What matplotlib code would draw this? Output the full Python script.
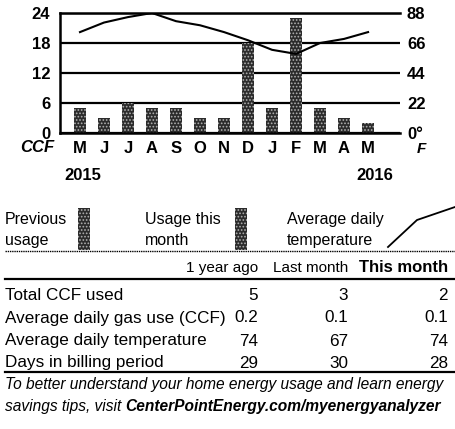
import matplotlib.pyplot as plt
from matplotlib.patches import Rectangle
from matplotlib.lines import Line2D

plt.rcParams['font.family'] = ['Liberation Sans', 'DejaVu Sans']

months = ['M', 'J', 'J', 'A', 'S', 'O', 'N', 'D', 'J', 'F', 'M', 'A', 'M']
usage = [5, 3, 6, 5, 5, 3, 3, 18, 5, 23, 5, 3, 2]
temps = [74, 81, 85, 88, 82, 79, 74, 68, 61, 58, 66, 69, 74]
ccf_ticks = [0, 6, 12, 18, 24]
temp_ticks = [0, 22, 44, 66, 88]

col_heads = ['1 year ago', 'Last month', 'This month']
row_names = ['Total CCF used', 'Average daily gas use (CCF)',
             'Average daily temperature', 'Days in billing period']
table_vals = [['5', '3', '2'],
              ['0.2', '0.1', '0.1'],
              ['74', '67', '74'],
              ['29', '30', '28']]

W, H = 455, 429
fig = plt.figure(figsize=(W / 100, H / 100), dpi=100)


def fx(x):
    return x / W


def fy(y):
    return 1 - y / H


bar_style = dict(facecolor='#2b2b2b', edgecolor='#b0b0b0', hatch='.....', linewidth=0)
plt.rcParams['hatch.linewidth'] = 0.8

# --- chart ---
ax = fig.add_axes([fx(60), fy(133), 340 / W, 120 / H])
ax.bar(range(len(usage)), usage, width=0.5, **bar_style)
ax.set_xlim(-0.833, 13.33)
ax.set_ylim(0, 24)
ax.set_yticks(ccf_ticks)
ax.set_yticklabels([str(t) for t in ccf_ticks], fontsize=12, fontweight='bold')
ax.set_xticks(range(len(months)))
ax.set_xticklabels(months, fontsize=12, fontweight='bold')
ax.tick_params(length=0, axis='y', pad=7)
ax.tick_params(length=0, axis='x', pad=6)
ax.yaxis.grid(True, color='black', linewidth=1.6)
ax.set_axisbelow(True)
ax.spines['right'].set_visible(False)
for s in ['left', 'bottom', 'top']:
    ax.spines[s].set_linewidth(1.8)

ax2 = ax.twinx()
ax2.plot(range(len(temps)), temps, color='black', linewidth=1.5)
ax2.set_ylim(0, 88)
ax2.set_yticks(temp_ticks)
ax2.set_yticklabels(['0°'] + [str(t) for t in temp_ticks[1:]], fontsize=12,
                    fontweight='bold')
ax2.tick_params(length=0, pad=5)
for s in ax2.spines.values():
    s.set_visible(False)

fig.text(fx(54), fy(148), 'CCF', ha='right', va='center', fontsize=12,
         style='italic', fontweight='bold')
fig.text(fx(417), fy(149), 'F', ha='left', va='center', fontsize=11,
         style='italic', fontweight='bold')
ax.text(0.1, -0.35, '2015', transform=ax.get_xaxis_transform(), ha='center',
        va='center', fontsize=12, fontweight='bold')
ax.text(12.3, -0.35, '2016', transform=ax.get_xaxis_transform(), ha='center',
        va='center', fontsize=12, fontweight='bold')

# --- legend ---
lfont = dict(fontsize=11.5, va='center', ha='left')
fig.text(fx(5), fy(219), 'Previous', **lfont)
fig.text(fx(5), fy(241), 'usage', **lfont)
fig.text(fx(145), fy(219), 'Usage this', **lfont)
fig.text(fx(145), fy(241), 'month', **lfont)
fig.text(fx(287), fy(219), 'Average daily', **lfont)
fig.text(fx(287), fy(241), 'temperature', **lfont)
for x0 in (78, 235):
    fig.add_artist(Rectangle((fx(x0), fy(250)), 12 / W, 42 / H,
                             transform=fig.transFigure, **bar_style))
fig.add_artist(Line2D([fx(388), fx(417), fx(455)], [fy(247), fy(220), fy(207)],
                      transform=fig.transFigure, color='black', linewidth=1.3))
fig.add_artist(Line2D([fx(5), fx(455)], [fy(251), fy(251)], transform=fig.transFigure,
                      color='black', linewidth=1.0, linestyle=(0, (1, 0.6))))

# --- table ---
col_right = [258, 348, 448]
for x, h in zip(col_right, col_heads):
    bold = h == 'This month'
    fig.text(fx(x), fy(268), h, ha='right', va='center',
             fontsize=12 if bold else 11, fontweight='bold' if bold else 'normal')
fig.add_artist(Line2D([fx(5), fx(455)], [fy(279), fy(279)], transform=fig.transFigure,
                      color='black', linewidth=1.6))
tfont = dict(fontsize=12.3, va='center')
row_y = [295, 318, 341, 363]
for y, name, vals in zip(row_y, row_names, table_vals):
    fig.text(fx(5), fy(y), name, ha='left', **tfont)
    for x, v in zip(col_right, vals):
        fig.text(fx(x), fy(y), v, ha='right', **tfont)
fig.add_artist(Line2D([fx(5), fx(455)], [fy(372), fy(372)], transform=fig.transFigure,
                      color='black', linewidth=1.6))

foot = dict(ha='left', va='center', fontsize=11.2, style='italic')
fig.text(fx(5), fy(385), 'To better understand your home energy usage and learn energy',
         **foot)
t = fig.text(fx(5), fy(407), 'savings tips, visit ', **foot)
fig.canvas.draw()
bb = t.get_window_extent()
fig.text(bb.x1 / W, fy(407), 'CenterPointEnergy.com/myenergyanalyzer',
         fontweight='bold', **foot)

fig.savefig('out.png', dpi=100)
